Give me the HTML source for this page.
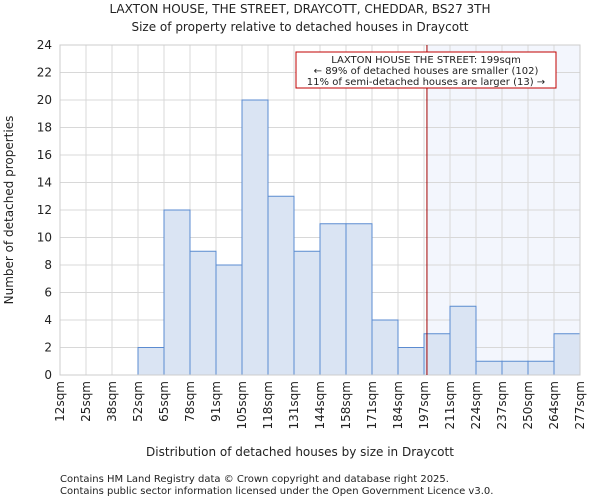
<!DOCTYPE html>
<html><head><style>
body{margin:0;background:#fff;font-family:"DejaVu Sans","Liberation Sans",sans-serif;}
svg text{font-family:"DejaVu Sans","Liberation Sans",sans-serif;fill:#222;}
</style></head><body>
<svg id="c" width="600" height="500">
<text x="300" y="13" font-size="12" text-anchor="middle">LAXTON HOUSE, THE STREET, DRAYCOTT, CHEDDAR, BS27 3TH</text>
<text x="300" y="31" font-size="12" text-anchor="middle">Size of property relative to detached houses in Draycott</text>
<g id="plot"></g>
<text x="300" y="456" font-size="12" text-anchor="middle">Distribution of detached houses by size in Draycott</text>
<text transform="translate(13,210) rotate(-90)" font-size="12" text-anchor="middle">Number of detached properties</text>
<text x="60" y="482" font-size="10">Contains HM Land Registry data © Crown copyright and database right 2025.</text>
<text x="60" y="494" font-size="10">Contains public sector information licensed under the Open Government Licence v3.0.</text>
</svg>
<script>
const categories=["12sqm","25sqm","38sqm","52sqm","65sqm","78sqm","91sqm","105sqm","118sqm","131sqm","144sqm","158sqm","171sqm","184sqm","197sqm","211sqm","224sqm","237sqm","250sqm","264sqm","277sqm"];
const counts=[0,0,0,2,12,9,8,20,13,9,11,11,4,2,3,5,1,1,1,3];
const yTicks=[0,2,4,6,8,10,12,14,16,18,20,22,24];
const markerValue=199;
const binStart=12, binWidthSqm=13.25;
const L=60,R=580,T=45,B=375,yMax=24;
const n=counts.length, bw=(R-L)/n;
const xPos=v=>L+(v-binStart)/binWidthSqm*bw;
const yPos=v=>B-v/yMax*(B-T);
const g=document.getElementById('plot');
const NS='http://www.w3.org/2000/svg';
function mk(t,a){const e=document.createElementNS(NS,t);for(const k in a)e.setAttribute(k,a[k]);g.appendChild(e);return e;}
const mx=xPos(markerValue);
let e=mk('rect',{x:mx,y:T,width:R-mx,height:B-T,fill:'#f3f6fd'});


yTicks.forEach(v=>{
 let l=mk('line',{x1:L,x2:R,y1:yPos(v),y2:yPos(v),stroke:'#d8d8d8'});
 
 
 let t=mk('text',{x:L-8,y:yPos(v)+4,'font-size':12,'text-anchor':'end'});t.textContent=v;
 
 
});
categories.forEach((c,i)=>{
 const x=L+i*bw;
 let l=mk('line',{x1:x,x2:x,y1:T,y2:B,stroke:'#d8d8d8'});
 
 
 let t=mk('text',{transform:`translate(${x+4},${B+6}) rotate(-90)`,'font-size':12,'text-anchor':'end'});t.textContent=c;
 
 
});
counts.forEach((v,i)=>{
 if(v<=0)return;
 let r=mk('rect',{x:L+i*bw,y:yPos(v),width:bw,height:B-yPos(v),fill:'#dae4f3',stroke:'#5b8bd0','stroke-width':1});
 
 
});
e=mk('rect',{x:L,y:T,width:R-L,height:B-T,fill:'none',stroke:'#cccccc'});


e=mk('line',{x1:mx,x2:mx,y1:T,y2:B,stroke:'#a00000','stroke-width':1});


e=mk('rect',{x:296,y:52,width:260,height:36,fill:'#fff',stroke:'#c00000','stroke-width':1});


["LAXTON HOUSE THE STREET: 199sqm","← 89% of detached houses are smaller (102)","11% of semi-detached houses are larger (13) →"].forEach((s,i)=>{
 let t=mk('text',{x:426,y:63+i*11,'font-size':10,'text-anchor':'middle'});t.textContent=s;
 
 
});
</script>
</body></html>
